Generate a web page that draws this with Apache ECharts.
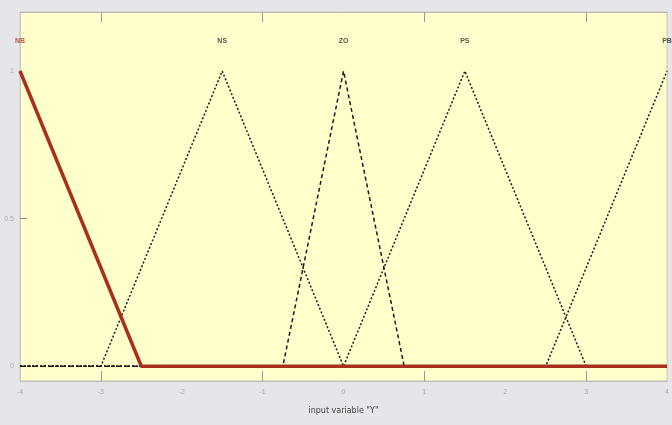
<!doctype html>
<html>
<head>
    <meta charset="utf-8" />
    <title>membership functions</title>
    <script src="https://cdn.jsdelivr.net/npm/echarts@6/dist/echarts.min.js"></script>
    <style>
        html, body { margin: 0; padding: 0; background: #e6e6e8; }
        #main { width: 672px; height: 425px; }
    </style>
</head>
<body>
<div id="main"></div>
<script type="text/javascript">
    // 隶属度函数数据
    var mfNames = ['NB', 'NS', 'ZO', 'PS', 'PB'];
    var nbX = [-4, -2.5, 4];
    var nbY = [1, 0, 0];
    var nsX = [-4, -3, -1.5, 0, 4];
    var nsY = [0, 0, 1, 0, 0];
    var zoX = [-4, -0.75, 0, 0.75, 4];
    var zoY = [0, 0, 1, 0, 0];
    var psX = [-4, 0, 1.5, 3, 4];
    var psY = [0, 0, 1, 0, 0];
    var pbX = [-4, 2.5, 4];
    var pbY = [0, 0, 1];
    var labelX = [-4, -1.5, 0, 1.5, 4];
    var labelY = [1.1, 1.1, 1.1, 1.1, 1.1];
    var xTickLabels = [-4, -3, -2, -1, 0, 1, 2, 3, 4];
    var xTickMarks = [-3, -1, 1, 3];
    var yTickLabels = [0, 0.5, 1];

    function pairs(xs, ys) {
        return xs.map(function (x, i) { return [x, ys[i]]; });
    }

    var myChart = echarts.init(document.getElementById('main'));

    var dashLine = function (xs, ys, dash) {
        return {
            type: 'line',
            data: pairs(xs, ys),
            symbol: 'none',
            silent: true,
            z: 2,
            lineStyle: { color: '#1a1a1a', width: 1.5, type: dash }
        };
    };

    option = {
        animation: false,
        backgroundColor: '#e6e6e8',
        grid: {
            left: 20, right: 4, top: 12, bottom: 44,
            show: true,
            backgroundColor: '#ffffcc',
            borderColor: '#c8c8b8',
            borderWidth: 1
        },
        xAxis: [{
            type: 'value',
            min: -4, max: 4,
            name: 'input variable "Y"',
            nameLocation: 'middle',
            nameGap: 26,
            nameTextStyle: { fontSize: 8, color: '#444', fontFamily: 'DejaVu Sans' },
            axisLine: { show: true, onZero: false, lineStyle: { color: '#bbb' } },
            axisTick: { show: true, inside: true, length: 10, customValues: xTickMarks, lineStyle: { color: '#999' } },
            axisLabel: { customValues: xTickLabels, fontSize: 7, color: '#aaa', margin: 8 },
            splitLine: { show: false }
        }, {
            type: 'value',
            position: 'top',
            min: -4, max: 4,
            axisLine: { show: true, onZero: false, lineStyle: { color: '#bbb' } },
            axisTick: { show: true, inside: true, length: 10, customValues: xTickMarks, lineStyle: { color: '#999' } },
            axisLabel: { show: false },
            splitLine: { show: false }
        }],
        yAxis: {
            type: 'value',
            min: -0.05, max: 1.2,
            axisLine: { show: true, onZero: false, lineStyle: { color: '#ccc' } },
            axisTick: { show: true, inside: true, length: 7, customValues: [0.5], lineStyle: { color: '#888' } },
            axisLabel: { customValues: yTickLabels, fontSize: 7, color: '#aaa', margin: 6 },
            splitLine: { show: false }
        },
        series: [
            dashLine(nsX, nsY, [2, 2]),
            dashLine(zoX, zoY, [4, 3]),
            dashLine(psX, psY, [2, 2]),
            dashLine(pbX, pbY, [2, 2]),
            {
                type: 'line',
                data: pairs(nbX, nbY),
                symbol: 'none',
                silent: true,
                z: 5,
                lineStyle: { color: '#a8301c', width: 3.5 }
            },
            {
                type: 'scatter',
                data: labelX.map(function (x, i) {
                    return {
                        value: [x, labelY[i]],
                        name: mfNames[i],
                        label: { color: i === 0 ? '#a83a20' : '#2a2a2a' }
                    };
                }),
                symbolSize: 0,
                silent: true,
                label: {
                    show: true,
                    position: 'inside',
                    formatter: function (p) { return p.name; },
                    fontSize: 7,
                    fontWeight: 'bold'
                }
            }
        ]
    };
    myChart.setOption(option);
</script>
</body>
</html>
